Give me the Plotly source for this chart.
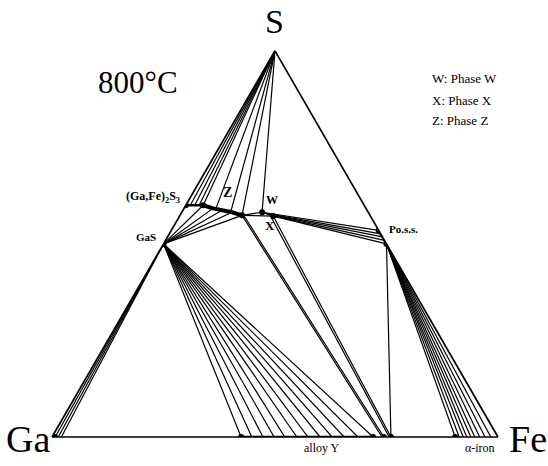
import plotly.graph_objects as go

# ---- compositions, at.% as (S, Ga, Fe) ----
S_CORNER = (100.0, 0.0, 0.0)
GAS = (50.0, 50.0, 0.0)
GA2S3 = (60.0, 40.0, 0.0)
GAFE2S3_END = (60.0, 36.1, 3.9)
Z_PHASE = [(60.0, 36.1, 3.9), (59.2, 34.3, 6.5), (58.7, 32.5, 8.8),
           (58.2, 30.5, 11.3), (57.4, 28.7, 13.9)]
Z_END = (57.4, 28.7, 13.9)
Z_END2 = (57.3, 28.3, 14.4)
W_PT = (58.2, 23.8, 18.0)
X_PT = (57.2, 21.8, 21.0)
X_PT2 = (57.4, 22.4, 20.2)
PO_TOP = (53.5, 0.0, 46.5)
PO_BOT = (50.0, 0.0, 50.0)

# tie-line ends on the (Ga,Fe)2S3 / Z side, reached from liquid sulfur
S_FAN_ENDS = [(60.0, 39.0, 1.0), (60.0, 38.0, 2.0), (60.0, 37.0, 3.0),
              (60.0, 36.1, 3.9), (59.0, 33.8, 7.2), (58.0, 31.0, 11.0),
              (57.4, 28.7, 13.9), (58.2, 23.8, 18.0)]
# tie-lines from GaS up to (Ga,Fe)2S3 / Z
GAS_UP_ENDS = [(60.0, 36.1, 3.9), (59.2, 34.3, 6.5), (58.7, 32.5, 8.8),
               (58.2, 30.5, 11.3), (57.4, 28.7, 13.9)]
# W-X side to pyrrhotite solid solution
WX_SIDE = [(58.2, 23.8, 18.0), (57.95, 23.3, 18.75), (57.7, 22.8, 19.5),
           (57.45, 22.3, 20.25), (57.2, 21.8, 21.0)]
PO_SIDE = [(53.5, 0.0, 46.5), (52.6, 0.0, 47.4), (51.8, 0.0, 48.2),
           (50.9, 0.0, 49.1), (50.0, 0.0, 50.0)]

# Fe content (at.%) of points on the Ga-Fe binary edge
GA_LIQ_FE = [0.7, 1.4, 2.1]
GAS_DOWN_FE = [42.4, 44.8, 47.3, 49.8, 52.2, 54.9, 57.4, 60.1, 62.8, 65.5, 68.6, 72.0]
ALLOY_Y_FE = [42.4, 72.0]
DOT2_FE = 74.4
DOT3_FE = 76.0
PO_DOWN_FE = [90.4, 91.3, 92.2, 93.0, 93.9, 94.8, 95.9, 97.1, 98.4]
ALPHA_FE = 90.4
GA_DOT_FE = 0.7


def edge(fe):
    return (0.0, 100.0 - fe, fe)


def segs(pairs):
    a, b, c = [], [], []
    for p, q in pairs:
        for pt in (p, q):
            a.append(pt[0]); b.append(pt[1]); c.append(pt[2])
        a.append(None); b.append(None); c.append(None)
    return a, b, c


thin_pairs = []
thin_pairs += [(S_CORNER, e) for e in S_FAN_ENDS]
thin_pairs += [(GAS, e) for e in GAS_UP_ENDS]
thin_pairs += [(GAS, edge(f)) for f in GA_LIQ_FE]
thin_pairs += [(GAS, edge(f)) for f in GAS_DOWN_FE]
thin_pairs += [(p, q) for p, q in zip(WX_SIDE, PO_SIDE)]
thin_pairs += [(PO_BOT, edge(f)) for f in PO_DOWN_FE]
thin_pairs += [(Z_END, W_PT), (Z_END, X_PT), (W_PT, X_PT)]
thin_pairs += [(Z_END, edge(DOT2_FE - 0.4)), (Z_END2, edge(DOT2_FE)),
               (X_PT2, edge(DOT3_FE - 0.4)), (X_PT, edge(DOT3_FE)),
               (PO_BOT, edge(DOT3_FE))]

fig = go.Figure()

a, b, c = segs(thin_pairs)
fig.add_trace(go.Scatterternary(a=a, b=b, c=c, mode="lines",
                                line=dict(color="black", width=1.2),
                                hoverinfo="skip", connectgaps=False))

# thick single-phase ranges
thick_pairs = [(GA2S3, GAFE2S3_END),
               (edge(ALLOY_Y_FE[0]), edge(ALLOY_Y_FE[1])),
               (PO_TOP, PO_BOT)]
a, b, c = segs(thick_pairs)
fig.add_trace(go.Scatterternary(a=a, b=b, c=c, mode="lines",
                                line=dict(color="black", width=2.6),
                                hoverinfo="skip", connectgaps=False))
fig.add_trace(go.Scatterternary(a=[p[0] for p in Z_PHASE], b=[p[1] for p in Z_PHASE],
                                c=[p[2] for p in Z_PHASE], mode="lines",
                                line=dict(color="black", width=4),
                                hoverinfo="skip"))

dots = [GAS, GA2S3, GAFE2S3_END, Z_END, W_PT, X_PT, PO_TOP, PO_BOT,
        edge(GA_DOT_FE), edge(ALLOY_Y_FE[0]), edge(ALLOY_Y_FE[1]),
        edge(DOT2_FE), edge(DOT3_FE), edge(ALPHA_FE)]
fig.add_trace(go.Scatterternary(a=[p[0] for p in dots], b=[p[1] for p in dots],
                                c=[p[2] for p in dots], mode="markers",
                                marker=dict(color="black", size=6),
                                hoverinfo="skip"))

W_PX, H_PX = 548, 466
axis = dict(showline=True, linecolor="black", linewidth=1.7, showgrid=False,
            showticklabels=False, ticks="", title=dict(text=""))
fig.update_layout(
    width=W_PX, height=H_PX, margin=dict(l=0, r=0, t=0, b=0),
    paper_bgcolor="white", showlegend=False,
    ternary=dict(sum=100, bgcolor="white",
                 domain=dict(x=[52 / W_PX, 498 / W_PX], y=[29 / H_PX, 415.2 / H_PX]),
                 aaxis=axis, baxis=axis, caxis=axis),
)

SERIF = "Liberation Serif, Times New Roman, serif"


def label(x, y, text, size, xanchor="center", bold=False):
    if bold:
        text = "<b>" + text + "</b>"
    fig.add_annotation(x=x / W_PX, y=1 - y / H_PX, xref="paper", yref="paper",
                       text=text, showarrow=False, xanchor=xanchor, yanchor="middle",
                       font=dict(family=SERIF, size=size, color="black"))


label(274, 22, "S", 34)
label(28, 439, "Ga", 38)
label(528, 439, "Fe", 38)
label(138, 83, "800°C", 31)
label(430, 79, "W: Phase W", 13, xanchor="left")
label(430, 100, "X: Phase X", 13, xanchor="left")
label(430, 120, "Z: Phase Z", 13, xanchor="left")
label(182, 197, "(Ga,Fe)<sub>2</sub>S<sub>3</sub>", 12, xanchor="right", bold=True)
label(227, 192, "Z", 14, bold=True)
label(272, 200, "W", 12, bold=True)
label(270, 225, "X", 13, bold=True)
label(387, 229, "Po.s.s.", 11, xanchor="left", bold=True)
label(158, 237, "GaS", 11, xanchor="right", bold=True)
label(322, 448, "alloy Y", 12)
label(480, 448, "α-iron", 12)

fig.write_html("out.html", config={"displayModeBar": False, "staticPlot": True},
               post_script="document.body.style.margin='0';document.body.style.overflow='hidden';")
